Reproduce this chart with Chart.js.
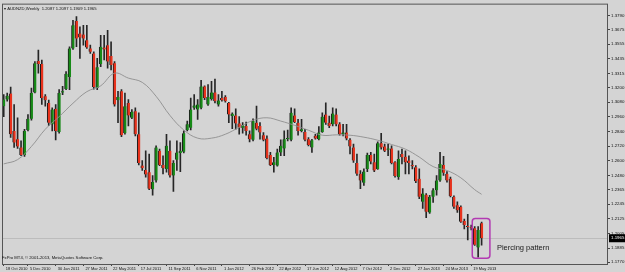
<!DOCTYPE html>
<html>
<head>
<meta charset="utf-8">
<script src="https://cdn.jsdelivr.net/npm/chart.js@4.4.0/dist/chart.umd.min.js"></script>
<style>
  html, body { margin: 0; padding: 0; background: #d4d4d4; }
  canvas { display: block; }
</style>
</head>
<body>
<canvas id="chart" width="625" height="272"></canvas>
<script>
// AUDNZD weekly, week index 0 = 17 Oct 2010
const opens = [
  1.3047, 1.3101, 1.3150, 1.2844, 1.2776, 1.2709, 1.2647, 1.2852, 1.2944, 1.3160,
  1.3417, 1.3393, 1.3128, 1.3074, 1.2898, 1.3025, 1.2836, 1.3160, 1.3187, 1.3285,
  1.3520, 1.3744, 1.3642, 1.3634, 1.3588, 1.3520, 1.3479, 1.3196, 1.3393, 1.3528,
  1.3547, 1.3458, 1.3398, 1.3096, 1.3169, 1.2825, 1.3074, 1.2952, 1.3006, 1.2817,
  1.2560, 1.2525, 1.2506, 1.2366, 1.2439, 1.2682, 1.2566, 1.2533, 1.2682, 1.2479,
  1.2609, 1.2663, 1.2674, 1.2852, 1.2871, 1.3034, 1.3020, 1.3034, 1.3209, 1.3061,
  1.3106, 1.3160, 1.3061, 1.3114, 1.3123, 1.3074, 1.2966, 1.2971, 1.2906, 1.2871,
  1.2885, 1.2817, 1.2771, 1.2912, 1.2885, 1.2809, 1.2782, 1.2647, 1.2566, 1.2560,
  1.2668, 1.2701, 1.2779, 1.2771, 1.2971, 1.2912, 1.2844, 1.2836, 1.2776, 1.2709,
  1.2804, 1.2776, 1.2836, 1.2979, 1.2912, 1.2898, 1.2979, 1.2898, 1.2817, 1.2831,
  1.2771, 1.2709, 1.2582, 1.2493, 1.2420, 1.2533, 1.2647, 1.2587, 1.2533, 1.2744,
  1.2717, 1.2690, 1.2701, 1.2587, 1.2466, 1.2655, 1.2633, 1.2601, 1.2566, 1.2547,
  1.2452, 1.2263, 1.2322, 1.2176, 1.2304, 1.2358, 1.2439, 1.2566, 1.2493, 1.2452,
  1.2304, 1.2236, 1.2222, 1.2106, 1.2063, 1.2055, 1.2046, 1.1890, 1.2087
];
const highs = [
  1.3142, 1.3155, 1.3204, 1.3061, 1.2952, 1.2763, 1.2858, 1.2979, 1.3196, 1.3412,
  1.3507, 1.3425, 1.3142, 1.3096, 1.3034, 1.3061, 1.3182, 1.3209, 1.3331, 1.3534,
  1.3750, 1.3782, 1.3696, 1.3709, 1.3709, 1.3547, 1.3493, 1.3439, 1.3628, 1.3628,
  1.3669, 1.3574, 1.3412, 1.3169, 1.3182, 1.3155, 1.3101, 1.3020, 1.3034, 1.2993,
  1.2601, 1.2682, 1.2655, 1.2479, 1.2722, 1.2695, 1.2641, 1.2817, 1.2763, 1.2601,
  1.2763, 1.2749, 1.2844, 1.2925, 1.3114, 1.3142, 1.3101, 1.3258, 1.3214, 1.3223,
  1.3250, 1.3269, 1.3142, 1.3169, 1.3133, 1.3079, 1.2993, 1.3025, 1.2961, 1.2912,
  1.2917, 1.2844, 1.2944, 1.3047, 1.2912, 1.2831, 1.2804, 1.2668, 1.2628, 1.2695,
  1.2771, 1.2844, 1.2852, 1.3034, 1.3025, 1.2939, 1.2939, 1.2858, 1.2790, 1.2776,
  1.2817, 1.2879, 1.2993, 1.3074, 1.2966, 1.3034, 1.3025, 1.2912, 1.2898, 1.2898,
  1.2782, 1.2736, 1.2655, 1.2520, 1.2533, 1.2663, 1.2668, 1.2655, 1.2755, 1.2825,
  1.2736, 1.2736, 1.2722, 1.2593, 1.2682, 1.2695, 1.2682, 1.2641, 1.2601, 1.2560,
  1.2533, 1.2371, 1.2331, 1.2317, 1.2371, 1.2479, 1.2668, 1.2636, 1.2511, 1.2466,
  1.2312, 1.2263, 1.2231, 1.2122, 1.2160, 1.2073, 1.2060, 1.2060, 1.2097
];
const lows = [
  1.2961, 1.3087, 1.2790, 1.2709, 1.2701, 1.2641, 1.2636, 1.2844, 1.2933, 1.3155,
  1.3317, 1.3061, 1.3047, 1.2890, 1.2844, 1.2771, 1.2825, 1.3142, 1.3182, 1.3182,
  1.3512, 1.3534, 1.3439, 1.3547, 1.3520, 1.3479, 1.3187, 1.3182, 1.3371, 1.3425,
  1.3358, 1.3344, 1.3047, 1.2912, 1.2798, 1.2817, 1.2885, 1.2944, 1.2804, 1.2566,
  1.2520, 1.2466, 1.2363, 1.2317, 1.2425, 1.2560, 1.2493, 1.2506, 1.2466, 1.2349,
  1.2520, 1.2511, 1.2663, 1.2844, 1.2852, 1.3020, 1.2939, 1.3025, 1.3101, 1.3053,
  1.3096, 1.3074, 1.3047, 1.3087, 1.3079, 1.2912, 1.2863, 1.2858, 1.2817, 1.2825,
  1.2809, 1.2755, 1.2763, 1.2852, 1.2776, 1.2763, 1.2614, 1.2560, 1.2506, 1.2555,
  1.2641, 1.2641, 1.2763, 1.2763, 1.2912, 1.2809, 1.2836, 1.2763, 1.2722, 1.2668,
  1.2776, 1.2771, 1.2831, 1.2898, 1.2871, 1.2885, 1.2885, 1.2809, 1.2804, 1.2771,
  1.2655, 1.2587, 1.2479, 1.2371, 1.2398, 1.2511, 1.2574, 1.2511, 1.2528, 1.2695,
  1.2674, 1.2641, 1.2574, 1.2466, 1.2447, 1.2574, 1.2493, 1.2493, 1.2533, 1.2420,
  1.2290, 1.2209, 1.2133, 1.2168, 1.2258, 1.2317, 1.2431, 1.2479, 1.2425, 1.2304,
  1.2209, 1.2176, 1.2095, 1.2041, 1.1952, 1.2033, 1.1906, 1.1809, 1.1909
];
const closes = [
  1.3101, 1.3133, 1.2817, 1.2749, 1.2717, 1.2647, 1.2844, 1.2944, 1.3155, 1.3398,
  1.3393, 1.3114, 1.3096, 1.2912, 1.3020, 1.2844, 1.3155, 1.3169, 1.3312, 1.3520,
  1.3709, 1.3601, 1.3609, 1.3601, 1.3528, 1.3493, 1.3204, 1.3366, 1.3534, 1.3512,
  1.3412, 1.3385, 1.3061, 1.3123, 1.2809, 1.3047, 1.2971, 1.3001, 1.2817, 1.2582,
  1.2539, 1.2487, 1.2371, 1.2425, 1.2709, 1.2566, 1.2539, 1.2722, 1.2479, 1.2582,
  1.2668, 1.2682, 1.2825, 1.2898, 1.3020, 1.3053, 1.3061, 1.3209, 1.3114, 1.3123,
  1.3160, 1.3087, 1.3093, 1.3096, 1.3087, 1.2979, 1.2985, 1.2906, 1.2871, 1.2890,
  1.2844, 1.2776, 1.2925, 1.2863, 1.2831, 1.2771, 1.2620, 1.2566, 1.2587, 1.2668,
  1.2722, 1.2776, 1.2784, 1.2993, 1.2917, 1.2844, 1.2858, 1.2771, 1.2728, 1.2768,
  1.2782, 1.2831, 1.2961, 1.2912, 1.2885, 1.2987, 1.2898, 1.2817, 1.2831, 1.2782,
  1.2717, 1.2601, 1.2493, 1.2439, 1.2511, 1.2647, 1.2593, 1.2520, 1.2744, 1.2709,
  1.2682, 1.2701, 1.2582, 1.2474, 1.2614, 1.2628, 1.2587, 1.2582, 1.2555, 1.2431,
  1.2304, 1.2331, 1.2182, 1.2304, 1.2358, 1.2439, 1.2574, 1.2501, 1.2439, 1.2312,
  1.2223, 1.2195, 1.2101, 1.2073, 1.2057, 1.2046, 1.1911, 1.2033, 1.1965
];

// moving average line, read at every 4th week
const maWeeks = [0, 4, 8, 12, 16, 20, 24, 28, 32, 36, 40, 44, 48, 52, 56, 60, 64, 68, 72,
  76, 80, 84, 88, 92, 96, 100, 104, 108, 112, 116, 120, 124, 128, 132, 136, 138];
const maValues = [1.2574, 1.2609, 1.2717, 1.2858, 1.2961, 1.3071, 1.3166, 1.3214, 1.3317,
  1.3277, 1.3242, 1.3128, 1.2971, 1.2852, 1.2785, 1.2785, 1.2817, 1.2874, 1.2931,
  1.2952, 1.2925, 1.2890, 1.2850, 1.2809, 1.2812, 1.2809, 1.2793, 1.2768, 1.2733,
  1.2695, 1.2630, 1.2552, 1.2520, 1.2460, 1.2363, 1.2325];

const xTickWeeks = [0, 7, 15, 23, 31, 39, 47, 55, 63, 71, 79, 87, 95, 103, 111, 119, 127, 135];
const xTickLabels = ["18 Oct 2010", "5 Dec 2010", "30 Jan 2011", "27 Mar 2011", "22 May 2011",
  "17 Jul 2011", "11 Sep 2011", "6 Nov 2011", "1 Jan 2012", "26 Feb 2012", "22 Apr 2012",
  "17 Jun 2012", "12 Aug 2012", "7 Oct 2012", "2 Dec 2012", "27 Jan 2013", "24 Mar 2013",
  "19 May 2013"];
const yTicks = [1.3790, 1.3675, 1.3555, 1.3435, 1.3315, 1.3200, 1.3080, 1.2960, 1.2840,
  1.2720, 1.2600, 1.2480, 1.2365, 1.2245, 1.2125, 1.2005, 1.1885, 1.1770];

// piercing pattern marker (weeks / prices)
const boxWeeks = [135.3, 140.4];
const boxPrices = [1.2127, 1.1802];

const smallFont = "'Liberation Sans', sans-serif";
const bg = "#d4d4d4";
const lastClose = closes[closes.length - 1];

const wickData = highs.map((h, i) => ({ x: i, y: [lows[i], h] }));
const bodyData = opens.map((o, i) => ({ x: i, y: [o, closes[i]] }));
const bodyColors = opens.map((o, i) => (closes[i] >= o ? "#178a17" : "#e8321c"));
const maData = maWeeks.map((w, i) => ({ x: w, y: maValues[i] }));

const decor = {
  id: "decor",
  beforeDraw(chart) {
    const { ctx, width, height } = chart;
    ctx.save();
    ctx.fillStyle = bg;
    ctx.fillRect(0, 0, width, height);
    ctx.restore();
  },
  beforeDatasetsDraw(chart) {
    const { ctx, chartArea: a, scales } = chart;
    // current price line
    const py = Math.round(scales.y.getPixelForValue(lastClose)) + 0.5;
    ctx.save();
    ctx.strokeStyle = "#bcbcbc";
    ctx.lineWidth = 1;
    ctx.beginPath();
    ctx.moveTo(a.left, py);
    ctx.lineTo(a.right, py);
    ctx.stroke();
    ctx.restore();
  },
  afterDraw(chart) {
    const { ctx, chartArea: a, scales } = chart;
    ctx.save();
    // frame
    ctx.strokeStyle = "#555";
    ctx.lineWidth = 1;
    ctx.strokeRect(a.left + 0.5, a.top + 0.5, a.right - a.left - 1, a.bottom - a.top);

    // header and copyright
    ctx.fillStyle = "#111";
    ctx.font = "4.2px " + smallFont;
    ctx.textBaseline = "middle";
    ctx.fillText("\u25BE AUDNZD,Weekly  1.2087 1.2097 1.1909 1.1965", a.left + 2, a.top + 5);
    ctx.fillText("FxPro MT4, \u00A9 2001-2013, MetaQuotes Software Corp.", a.left, a.bottom - 6);

    // price tag
    const py = scales.y.getPixelForValue(lastClose);
    ctx.fillStyle = "#000";
    ctx.fillRect(a.right + 1, py - 4, 16, 8);
    ctx.fillStyle = "#fff";
    ctx.font = "4.4px " + smallFont;
    ctx.fillText(lastClose.toFixed(4), a.right + 3, py);

    // piercing pattern box
    const x0 = scales.x.getPixelForValue(boxWeeks[0]);
    const x1 = scales.x.getPixelForValue(boxWeeks[1]);
    const y0 = scales.y.getPixelForValue(boxPrices[0]);
    const y1 = scales.y.getPixelForValue(boxPrices[1]);
    ctx.strokeStyle = "#b23ab2";
    ctx.lineWidth = 1.5;
    ctx.beginPath();
    ctx.roundRect(x0, y0, x1 - x0, y1 - y0, 3);
    ctx.stroke();

    ctx.fillStyle = "#1a1a1a";
    ctx.font = "7.5px 'Liberation Sans', sans-serif";
    ctx.textBaseline = "alphabetic";
    ctx.fillText("Piercing pattern", x1 + 7, y1 - 8);
    ctx.restore();
  }
};

new Chart(document.getElementById("chart"), {
  data: {
    datasets: [
      {
        type: "line",
        data: maData,
        borderColor: "#8f8f8f",
        borderWidth: 0.9,
        pointRadius: 0,
        tension: 0.4,
        order: 0
      },
      {
        type: "bar",
        data: bodyData,
        backgroundColor: bodyColors,
        borderColor: "#1c1c1c",
        borderWidth: { left: 1, right: 0, top: 0, bottom: 0 },
        borderSkipped: false,
        barThickness: 3,
        minBarLength: 1,
        grouped: false,
        order: 1
      },
      {
        type: "bar",
        data: wickData,
        backgroundColor: "#262626",
        barThickness: 1,
        grouped: false,
        order: 2
      }
    ]
  },
  options: {
    responsive: false,
    animation: false,
    layout: { padding: { left: 2, top: 1, right: 0, bottom: 0 } },
    plugins: { legend: { display: false }, tooltip: { enabled: false } },
    scales: {
      x: {
        type: "linear",
        offset: false,
        min: -0.5,
        max: 174.5,
        afterBuildTicks: (scale) => {
          scale.ticks = xTickWeeks.map((v) => ({ value: v }));
        },
        afterFit: (scale) => {
          scale.height = 8;
        },
        grid: { offset: false, drawOnChartArea: false, tickLength: 2, color: "#444" },
        border: { display: false },
        ticks: {
          autoSkip: false,
          maxRotation: 0,
          align: "start",
          labelOffset: 2,
          padding: 0,
          color: "#111",
          font: { family: smallFont, size: 4 },
          callback: (v) => xTickLabels[xTickWeeks.indexOf(v)]
        }
      },
      y: {
        position: "right",
        min: 1.1754,
        max: 1.3887,
        afterBuildTicks: (scale) => {
          scale.ticks = yTicks.map((v) => ({ value: v }));
        },
        afterFit: (scale) => {
          scale.width = 17;
        },
        grid: { drawOnChartArea: false, tickLength: 2, color: "#444" },
        border: { display: false },
        ticks: {
          padding: 1,
          color: "#111",
          font: { family: smallFont, size: 4.4 },
          callback: (v) => v.toFixed(4)
        }
      }
    }
  },
  plugins: [decor]
});
</script>
</body>
</html>
